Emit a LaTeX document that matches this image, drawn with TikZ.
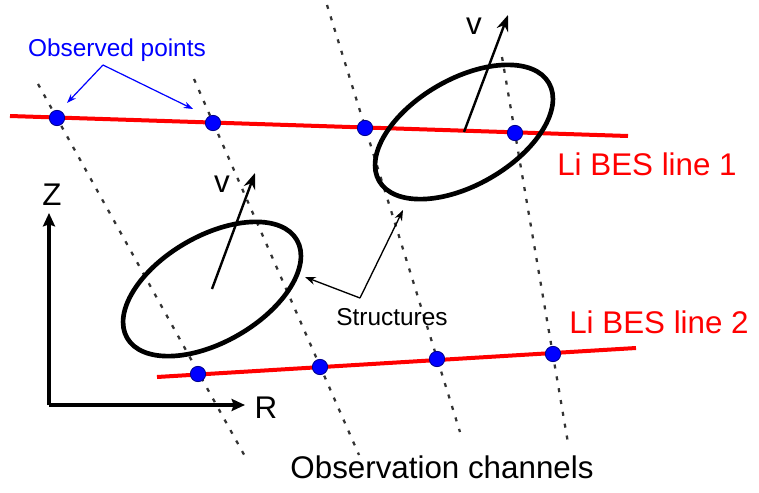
\documentclass[tikz,border=0pt]{standalone}
\usepackage{fontspec}
\setmainfont{Liberation Sans}
\usetikzlibrary{arrows.meta,shapes.geometric}
\begin{document}
\begin{tikzpicture}[x=0.75pt,y=-0.75pt,
  chan/.style={line width=1.7pt, dash pattern=on 3pt off 6pt, black!80},
  bes/.style={red, line width=3pt},
  obsdot/.style={circle, fill=blue, draw=blue!55!black, line width=0.6pt, minimum size=11.5pt, inner sep=0pt},
  struct/.style={ellipse, draw, line width=3.5pt, minimum width=147pt, minimum height=79.5pt, inner sep=0pt, rotate=30},
  velarrow/.style={line width=1.8pt, -{Stealth[length=12pt,width=9pt]}},
  axisarrow/.style={line width=2.4pt, -{Stealth[length=10pt,width=9pt,inset=1.5pt]}},
  thinarrow/.style={line width=1pt, -{Stealth[length=8pt,width=6pt]}},
  bluearrow/.style={blue, line width=0.9pt, -{Stealth[length=7pt,width=5pt]}},
  lbl/.style={font=\fontsize{23.5}{28}\selectfont, inner sep=0pt, anchor=base},
  redlbl/.style={lbl, text=red},
  smalllbl/.style={font=\fontsize{18.3}{22}\selectfont, inner sep=0pt, anchor=base}]
\useasboundingbox (0,0) rectangle (759,492);

% channel end points
\coordinate (cAt) at (38,84);   \coordinate (cAb) at (247,460);
\coordinate (cBt) at (194,79);  \coordinate (cBb) at (359,455);
\coordinate (cCt) at (327,5);   \coordinate (cCb) at (460,432);
\coordinate (cDt) at (502,57);  \coordinate (cDb) at (568,443);
\draw[chan] (cAt) -- (cAb);
\draw[chan] (cBt) -- (cBb);
\draw[chan] (cCt) -- (cCb);
\draw[chan] (cDt) -- (cDb);

% BES lines
\coordinate (l1a) at (10,116);  \coordinate (l1b) at (628,136);
\coordinate (l2a) at (157,377); \coordinate (l2b) at (636,348);
\draw[bes] (l1a) -- (l1b);
\draw[bes] (l2a) -- (l2b);

% observed points
\node[obsdot] (p11) at (57,118) {};
\node[obsdot] (p12) at (213,123) {};
\node[obsdot] (p13) at (365,128) {};
\node[obsdot] (p14) at (515,133) {};
\node[obsdot] (p21) at (198,374) {};
\node[obsdot] (p22) at (320,367) {};
\node[obsdot] (p23) at (437,359) {};
\node[obsdot] (p24) at (553,354) {};

% structures
\node[struct] (s1) at (464,132) {};
\node[struct] (s2) at (212,289) {};

% velocity arrows
\coordinate (v1) at (508,15);
\coordinate (v2) at (255,173);
\draw[velarrow] (s1.center) -- (v1);
\draw[velarrow] (s2.center) -- (v2);
\node[lbl] (v1l) at (474,35) {v};
\node[lbl] (v2l) at (222,192) {v};

% axes
\coordinate (o) at (49,405);
\coordinate (zt) at (49,213);
\coordinate (rt) at (245,405);
\draw[axisarrow] (o) -- (zt);
\draw[axisarrow] (o) -- (rt);
\node[lbl] (zl) at (52,205) {Z};
\node[lbl] (rl) at (266,418) {R};

% observed points label
\node[smalllbl, text=blue] (obs) at (117,57) {Observed points};
\coordinate (oj) at (103,65);
\coordinate (ot1) at (67,103);
\coordinate (ot2) at (193,109);
\draw[bluearrow] (oj) -- (ot1);
\draw[bluearrow] (oj) -- (ot2);

% structures label
\node[smalllbl] (st) at (392,325) {Structures};
\coordinate (sj) at (360,298);
\coordinate (st1) at (305,277);
\coordinate (st2) at (403,210);
\draw[thinarrow] (sj) -- (st1);
\draw[thinarrow] (sj) -- (st2);

% line labels
\node[redlbl] (lb1) at (647,175) {Li BES line 1};
\node[redlbl] (lb2) at (659,333) {Li BES line 2};
\node[lbl] (oc) at (442,478) {Observation channels};
\end{tikzpicture}
\end{document}
